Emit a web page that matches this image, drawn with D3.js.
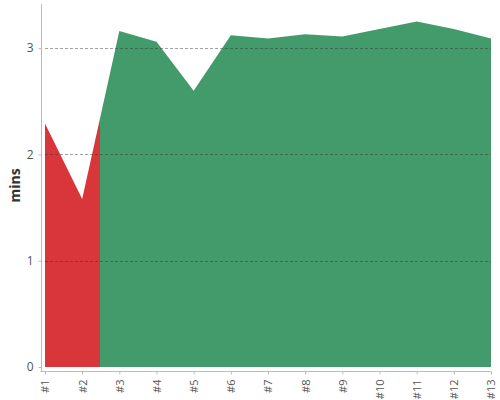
<!DOCTYPE html>
<html lang="en">
<head>
  <meta charset="utf-8">
  <script src="https://d3js.org/d3.v7.min.js"></script>
  <style>
    body { margin: 0; background: #fff; font-family: "Open Sans", sans-serif; }
    .axis path, .axis line { stroke: #bbb; }
    .axis text { fill: #555; font-size: 11px; font-family: "Open Sans", sans-serif; }
  </style>
</head>
<body>
<script>
  // lap labels and times in minutes
  const laps = ["#1", "#2", "#3", "#4", "#5", "#6", "#7", "#8", "#9", "#10", "#11", "#12", "#13"];
  const times = [2.29, 1.58, 3.16, 3.06, 2.60, 3.12, 3.09, 3.13, 3.11, 3.18, 3.25, 3.18, 3.09];
  const yTicks = [0, 1, 2, 3];
  const redUntil = 1; // laps up to this index (plus half a step) are red

  const w = 500, h = 400;
  const plotLeft = 45, plotRight = 491, plotTop = 4, plotBottom = 367;

  const svg = d3.select("body").append("svg")
    .attr("width", w)
    .attr("height", h);

  const x = d3.scalePoint().domain(laps).range([plotLeft, plotRight]);
  const y = d3.scaleLinear().domain([0, 3.415]).range([plotBottom, plotTop]);

  const data = laps.map((d, i) => ({ lap: d, v: times[i] }));
  const area = d3.area()
    .x(d => x(d.lap))
    .y0(y(0))
    .y1(d => y(d.v));

  const splitX = Math.floor((x(laps[redUntil]) + x(laps[redUntil + 1])) / 2);

  const defs = svg.append("defs");
  defs.append("clipPath").attr("id", "clipRed")
    .append("rect").attr("x", 0).attr("y", 0).attr("width", splitX).attr("height", h);
  defs.append("clipPath").attr("id", "clipGreen")
    .append("rect").attr("x", splitX).attr("y", 0).attr("width", w - splitX).attr("height", h);

  svg.append("path").datum(data)
    .attr("d", area)
    .attr("fill", "#d8363a")
    .attr("clip-path", "url(#clipRed)");
  svg.append("path").datum(data)
    .attr("d", area)
    .attr("fill", "#439b6c")
    .attr("clip-path", "url(#clipGreen)");

  // grid lines on top
  svg.append("g").selectAll("line")
    .data(yTicks.filter(d => d > 0))
    .enter().append("line")
    .attr("x1", plotLeft).attr("x2", plotRight)
    .attr("y1", d => Math.round(y(d)) + 0.5).attr("y2", d => Math.round(y(d)) + 0.5)
    .attr("stroke", "#333")
    .attr("stroke-opacity", 0.45)
    .attr("stroke-dasharray", "3,2");

  // y axis
  const yAxis = d3.axisLeft(y).tickValues(yTicks).tickFormat(d3.format("d"))
    .tickSize(3).tickSizeOuter(0).tickPadding(5);
  svg.append("g")
    .attr("class", "axis")
    .attr("transform", "translate(41.5,0)")
    .call(yAxis)
    .call(g => g.select(".domain").attr("d", `M0,${plotTop}V${plotBottom + 4}`))
    .selectAll("text").style("font-size", "12px");

  // x axis
  const xAxis = d3.axisBottom(x).tickSize(3).tickSizeOuter(0).tickPadding(4);
  svg.append("g")
    .attr("class", "axis")
    .attr("transform", `translate(0,${plotBottom + 4.5})`)
    .call(xAxis)
    .call(g => g.select(".domain").attr("d", `M${plotLeft - 4.5},0H${plotRight}`))
    .selectAll("text")
    .attr("transform", "rotate(-90)")
    .attr("text-anchor", "end")
    .attr("x", -8)
    .attr("y", 0)
    .attr("dy", "0.35em");

  // y axis title
  svg.append("text")
    .attr("transform", "rotate(-90)")
    .attr("x", -(plotTop + plotBottom) / 2)
    .attr("y", 20)
    .attr("text-anchor", "middle")
    .attr("font-size", "14px")
    .attr("font-weight", "bold")
    .attr("fill", "#333")
    .text("mins");
</script>
</body>
</html>
